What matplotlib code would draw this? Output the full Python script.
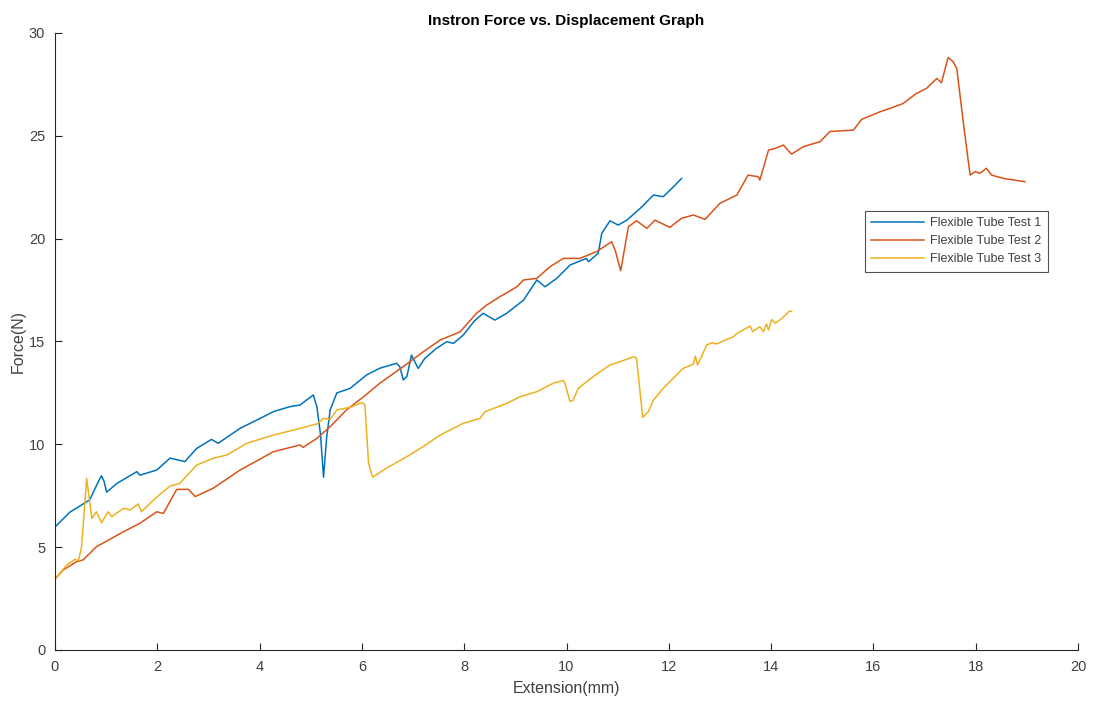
import matplotlib
matplotlib.use('Agg')
import matplotlib.pyplot as plt

plt.rcParams['font.family'] = ['Liberation Sans', 'DejaVu Sans']

# Flexible Tube Test 1
test1_x = [0.0, 0.29, 0.68, 0.85, 0.91, 0.96, 1.01, 1.21, 1.6, 1.66, 1.99, 2.25, 2.54, 2.77,
           3.06, 3.19, 3.62, 4.01, 4.27, 4.59, 4.79, 5.05, 5.12, 5.19, 5.25, 5.31, 5.38, 5.51,
           5.77, 6.09, 6.35, 6.68, 6.74, 6.81, 6.88, 6.97, 7.1, 7.23, 7.46, 7.66, 7.79, 7.98,
           8.2, 8.37, 8.6, 8.83, 9.16, 9.42, 9.58, 9.81, 10.07, 10.39, 10.43, 10.62, 10.69,
           10.85, 11.01, 11.18, 11.44, 11.7, 11.89, 12.09, 12.25]
test1_y = [5.98, 6.7, 7.3, 8.2, 8.47, 8.2, 7.67, 8.1, 8.67, 8.5, 8.75, 9.33, 9.16, 9.8,
           10.24, 10.05, 10.78, 11.26, 11.59, 11.83, 11.91, 12.4, 11.83, 10.5, 8.4, 10.3, 11.67, 12.5,
           12.72, 13.37, 13.7, 13.94, 13.78, 13.13, 13.3, 14.34, 13.69, 14.18, 14.67, 14.99, 14.91, 15.31,
           16.0, 16.37, 16.04, 16.37, 17.01, 17.99, 17.66, 18.07, 18.72, 19.04, 18.88, 19.29, 20.26,
           20.87, 20.66, 20.9, 21.47, 22.12, 22.04, 22.52, 22.93]

# Flexible Tube Test 2
test2_x = [0.0, 0.16, 0.42, 0.55, 0.81, 1.34, 1.66, 1.99, 2.12, 2.38, 2.61, 2.74, 3.09, 3.62,
           4.27, 4.79, 4.85, 5.12, 5.38, 5.7, 6.03, 6.35, 6.81, 7.2, 7.53, 7.92, 8.24, 8.44,
           8.7, 9.03, 9.16, 9.42, 9.68, 9.94, 10.26, 10.59, 10.88, 10.95, 11.06, 11.21, 11.37,
           11.57, 11.73, 12.02, 12.25, 12.48, 12.71, 13.0, 13.33, 13.55, 13.75, 13.78, 13.95,
           14.08, 14.24, 14.4, 14.63, 14.96, 15.15, 15.61, 15.77, 16.13, 16.32, 16.58, 16.84,
           17.04, 17.24, 17.33, 17.46, 17.56, 17.63, 17.76, 17.89, 17.99, 18.08, 18.21, 18.31,
           18.54, 18.96]
test2_y = [3.45, 3.89, 4.29, 4.38, 5.02, 5.75, 6.16, 6.72, 6.64, 7.81, 7.81, 7.46, 7.86, 8.75,
           9.64, 9.97, 9.85, 10.29, 10.86, 11.67, 12.31, 12.97, 13.78, 14.5, 15.07, 15.47, 16.37, 16.77,
           17.18, 17.66, 17.99, 18.07, 18.64, 19.04, 19.04, 19.37, 19.85, 19.45, 18.44, 20.58, 20.87,
           20.5, 20.9, 20.55, 20.99, 21.15, 20.94, 21.72, 22.12, 23.09, 23.01, 22.85, 24.31,
           24.39, 24.55, 24.11, 24.47, 24.72, 25.21, 25.28, 25.8, 26.17, 26.33, 26.57, 27.06,
           27.31, 27.79, 27.58, 28.81, 28.6, 28.27, 25.6, 23.09, 23.26, 23.18, 23.42, 23.09,
           22.93, 22.77]

# Flexible Tube Test 3
test3_x = [0.0, 0.23, 0.39, 0.46, 0.52, 0.62, 0.72, 0.81, 0.91, 1.04, 1.11, 1.34, 1.47, 1.63,
           1.69, 1.96, 2.25, 2.44, 2.77, 3.09, 3.36, 3.75, 4.27, 4.53, 4.92, 5.12, 5.25, 5.38,
           5.51, 5.77, 6.0, 6.06, 6.13, 6.21, 6.48, 6.88, 7.2, 7.53, 7.98, 8.31, 8.41, 8.83,
           9.09, 9.42, 9.74, 9.94, 9.97, 10.07, 10.13, 10.23, 10.52, 10.85, 11.05, 11.31, 11.37,
           11.49, 11.6, 11.7, 11.89, 12.28, 12.48, 12.52, 12.56, 12.64, 12.74, 12.84, 12.94,
           13.13, 13.26, 13.33, 13.59, 13.64, 13.78, 13.85, 13.91, 13.95, 14.01, 14.08, 14.21,
           14.36, 14.4]
test3_y = [3.45, 4.13, 4.41, 4.34, 5.02, 8.35, 6.4, 6.72, 6.19, 6.72, 6.48, 6.89, 6.81, 7.1,
           6.72, 7.37, 7.97, 8.1, 8.99, 9.32, 9.48, 10.05, 10.45, 10.61, 10.86, 10.99, 11.26, 11.21,
           11.67, 11.8, 12.03, 11.91, 9.08, 8.4, 8.84, 9.4, 9.89, 10.45, 11.02, 11.26, 11.59, 11.99,
           12.31, 12.56, 12.97, 13.1, 12.97, 12.08, 12.15, 12.72, 13.29, 13.86, 14.02, 14.26, 14.18,
           11.31, 11.59, 12.15, 12.72, 13.69, 13.9, 14.29, 13.86, 14.26, 14.83, 14.94, 14.88,
           15.1, 15.23, 15.39, 15.75, 15.48, 15.72, 15.48, 15.85, 15.56, 16.07, 15.89, 16.12,
           16.48, 16.46]

axis_color = '#262626'
text_color = '#404040'

fig = plt.figure(figsize=(10.93, 7.02), dpi=100)
ax = fig.add_axes([0.0503, 0.0741, 0.936, 0.8789])

ax.plot(test1_x, test1_y, color='#0072BD', linewidth=1.1, label='Flexible Tube Test 1')
ax.plot(test2_x, test2_y, color='#D95319', linewidth=1.1, label='Flexible Tube Test 2')
ax.plot(test3_x, test3_y, color='#EDB120', linewidth=1.1, label='Flexible Tube Test 3')

ax.set_xlim(0, 20)
ax.set_ylim(0, 30)
ax.set_xticks(range(0, 21, 2))
ax.set_yticks(range(0, 31, 5))

ax.spines['top'].set_visible(False)
ax.spines['right'].set_visible(False)
for s in ['left', 'bottom']:
    ax.spines[s].set_color(axis_color)
    ax.spines[s].set_linewidth(0.8)
ax.tick_params(direction='in', length=5, width=0.8, color=axis_color,
               labelcolor=text_color, labelsize=10.5, pad=7)

ax.set_title('Instron Force vs. Displacement Graph', fontsize=11, fontweight='bold', pad=6)
ax.set_xlabel('Extension(mm)', fontsize=11.5, color=text_color, labelpad=5)
ax.set_ylabel('Force(N)', fontsize=11.5, color=text_color, labelpad=2)

leg = ax.legend(loc='upper left', bbox_to_anchor=(0.792, 0.712), fontsize=9, frameon=True,
                fancybox=False, borderpad=0.5, handlelength=4.2, labelspacing=0.5,
                handletextpad=0.5, borderaxespad=0)
leg.get_frame().set_edgecolor(axis_color)
leg.get_frame().set_linewidth(0.8)
for t in leg.get_texts():
    t.set_color(text_color)

fig.savefig('out.png', dpi=100)
